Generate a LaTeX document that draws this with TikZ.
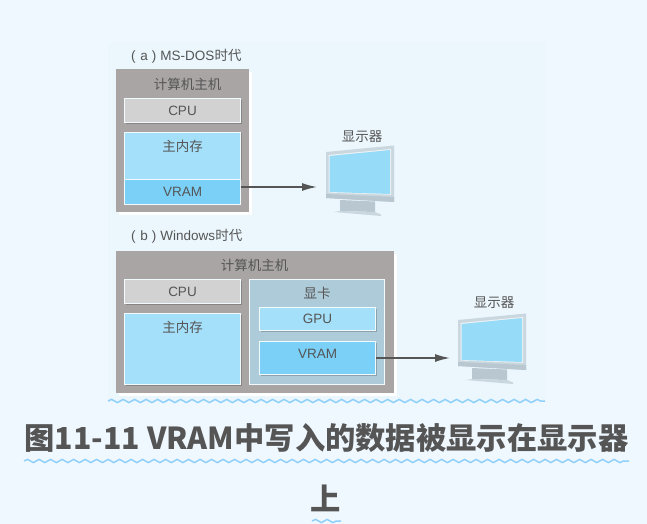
\documentclass[tikz,border=0pt]{standalone}
\usepackage{fontspec}
\setmainfont{Liberation Sans}
\newfontfamily\cjk{Noto Sans CJK SC}
\usetikzlibrary{arrows.meta,calc,shadows,decorations.pathmorphing}
\definecolor{pagebg}{HTML}{F0F8FF}
\definecolor{figbg}{HTML}{EBF7FD}
\definecolor{hostgray}{HTML}{AAA5A5}
\definecolor{cpugray}{HTML}{D2D2D2}
\definecolor{membl}{HTML}{A5E0FA}
\definecolor{vrambl}{HTML}{7AD0F7}
\definecolor{cardbl}{HTML}{AECBD9}
\definecolor{screenbl}{HTML}{96DCF8}
\definecolor{bodygray}{HTML}{CAD7DE}
\definecolor{footgray}{HTML}{B9C8D0}
\definecolor{inkgray}{HTML}{555555}
\definecolor{wavebl}{HTML}{8FD0FB}
\tikzset{
  block/.style={rectangle, inner sep=0, outer sep=0, draw=white!85!membl, line width=1pt, text=inkgray},
  innerblock/.style={block, drop shadow={shadow xshift=1.2pt, shadow yshift=-1.2pt, fill=black, opacity=0.2}},
  host/.style={rectangle, inner sep=0, outer sep=0, fill=hostgray, text=inkgray, drop shadow={shadow xshift=3pt, shadow yshift=-3pt, fill=white, opacity=1}},
  txt/.style={inner sep=0, outer sep=0, text=inkgray, font=\fontsize{13.5}{15}\selectfont},
  captxt/.style={inner sep=0, outer sep=0, text=inkgray, font=\cjk\bfseries\fontsize{30.3}{36}\selectfont},
  wave/.style={draw=wavebl, line width=1.5pt, decorate, decoration={snake, amplitude=1.6pt, segment length=11.5pt}},
  feed/.style={draw=inkgray, line width=1.5pt, -{Latex[length=15pt,width=8pt]}},
  monitor/.pic={
    \fill [bodygray] (0,0) -- (68,-6.5) -- (68,50) -- (0,46) -- cycle;
    \fill [footgray] (0,42) -- (68,45) -- (68,50) -- (0,46) -- cycle;
    \fill [white!70!bodygray] (2.5,3) -- (65,-3) -- (65,42.8) -- (2.5,40.6) -- cycle;
    \fill [screenbl] (3.5,4) -- (64,-2) -- (64,42) -- (3.5,40) -- cycle;
    \fill [footgray] (14,48) -- (49,49.5) -- (49,60) -- (14,59) -- cycle;
    \fill [bodygray] (8,60) -- (14,59) -- (49,60) -- (55,62.5) -- (55,64) -- cycle;
  }
}
\begin{document}
\begin{tikzpicture}[x=1pt, y=-1pt]
  \useasboundingbox (0,0) rectangle (647,524);
  \fill [pagebg] (0,0) rectangle (647,524);
  \fill [figbg] (108,42) rectangle (545,402);

  % (a)
  \node [txt, anchor=west] (titleA) at (131,56) {(\hspace{5pt}a\hspace{4pt})\hspace{4pt}MS-DOS{\cjk 时代}};
  \node [host, minimum width=133pt, minimum height=143pt] (hostA) at (182.5,140.5) {};
  \node [txt] (hostlabelA) at (187.5,84) {\cjk 计算机主机};
  \node [innerblock, fill=cpugray, minimum width=116pt, minimum height=24pt] (cpuA) at (182.5,110.5) {};
  \node [txt] at (cpuA) {CPU};
  \node [innerblock, fill=membl, minimum width=116pt, minimum height=47pt] (memA) at (182.5,155.5) {};
  \node [txt] (memlabelA) at (182.5,146) {\cjk 主内存};
  \node [block, fill=vrambl, minimum width=116pt, minimum height=25pt] (vramA) at (182.5,191.5) {};
  \node [txt] at (vramA) {VRAM};

  \node [txt] (screenlabelA) at (362,137) {\cjk 显示器};
  \pic at (326,152) {monitor};
  \coordinate (tipA) at (317,187);
  \draw [feed] (vramA.east |- tipA) -- (tipA);

  % (b)
  \node [txt, anchor=west] (titleB) at (131,236) {(\hspace{5pt}b\hspace{4pt})\hspace{4pt}Windows{\cjk 时代}};
  \node [host, minimum width=278pt, minimum height=142pt] (hostB) at (255,322) {};
  \node [txt] (hostlabelB) at (254.5,265) {\cjk 计算机主机};
  \node [innerblock, fill=cpugray, minimum width=116pt, minimum height=24pt] (cpuB) at (182.5,291.5) {};
  \node [txt] at (cpuB) {CPU};
  \node [innerblock, fill=membl, minimum width=116pt, minimum height=71pt] (memB) at (182.5,349) {};
  \node [txt] (memlabelB) at (182.5,327) {\cjk 主内存};
  \node [block, fill=cardbl, minimum width=135pt, minimum height=105pt] (cardB) at (317,332) {};
  \node [txt] (cardlabelB) at (317,293) {\cjk 显卡};
  \node [innerblock, fill=membl, minimum width=116pt, minimum height=23pt] (gpuB) at (317.5,319) {};
  \node [txt] at (gpuB) {GPU};
  \node [innerblock, fill=vrambl, minimum width=116pt, minimum height=33pt] (vramB) at (317.5,358) {};
  \node [txt] (vramlabelB) at (317.5,354) {VRAM};

  \node [txt] (screenlabelB) at (494,303) {\cjk 显示器};
  \pic at (458,320) {monitor};
  \coordinate (tipB) at (450,358);
  \draw [feed] (vramB.east) -- (tipB);

  % caption
  \draw [wave] (108,401) -- (545,401);
  \node [captxt] (caption) at (326.5,438) {图11-11 VRAM中写入的数据被显示在显示器};
  \draw [wave] (24,461) -- (629,461);
  \node [captxt] (captionend) at (326,498) {上};
  \draw [wave] (312,521) -- (341,521);
\end{tikzpicture}
\end{document}
